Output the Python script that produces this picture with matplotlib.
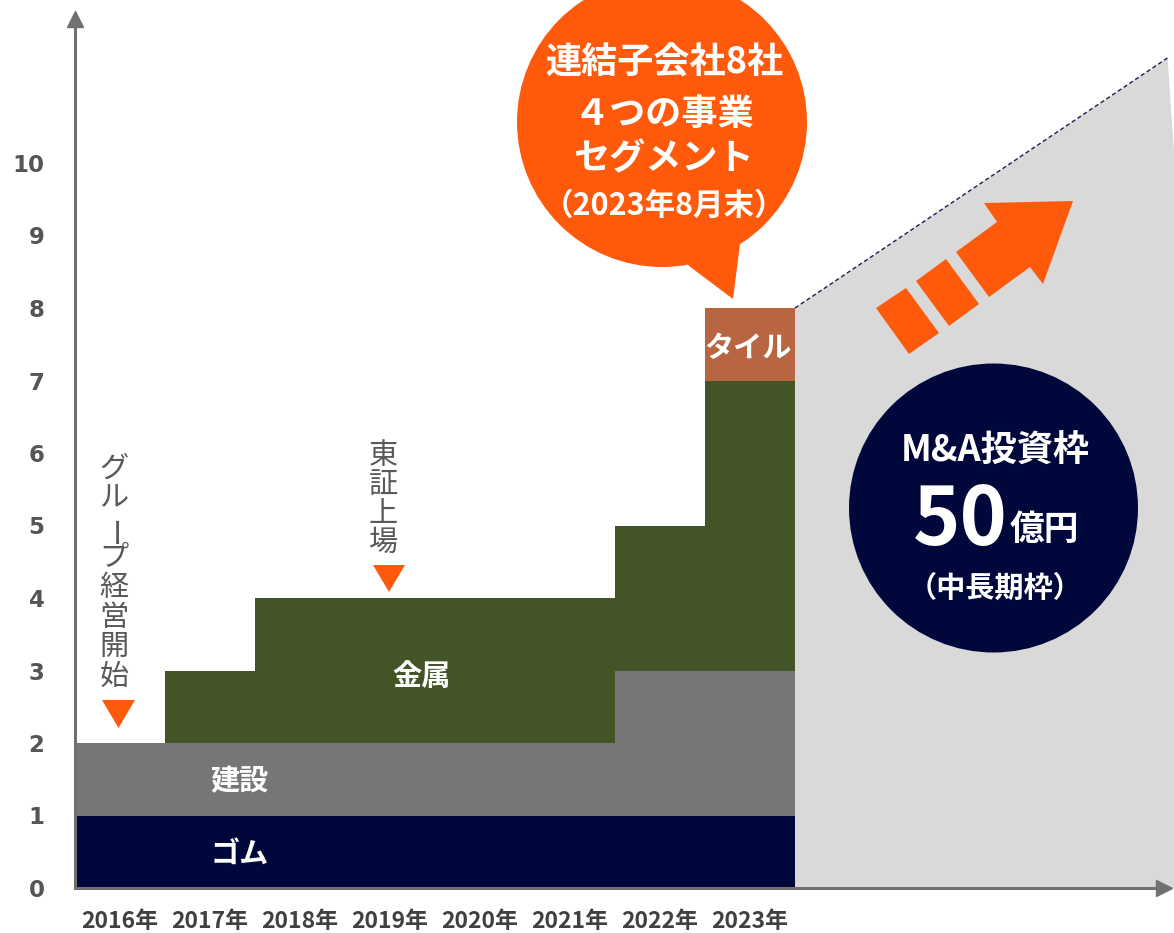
import matplotlib
matplotlib.use("Agg")
import matplotlib.pyplot as plt
from matplotlib.patches import Circle, Polygon
import numpy as np

plt.rcParams['font.family'] = ['Noto Sans CJK JP', 'DejaVu Sans']

# --- data ---
years = ["2016年", "2017年", "2018年", "2019年", "2020年", "2021年", "2022年", "2023年"]
gomu = [1, 1, 1, 1, 1, 1, 1, 1]          # ゴム
kensetsu = [1, 1, 1, 1, 1, 1, 2, 2]      # 建設
kinzoku = [0, 1, 2, 2, 2, 2, 2, 4]       # 金属
tile = [0, 0, 0, 0, 0, 0, 0, 1]          # タイル
proj_x = [8, 12.14]                      # M&A projection (dashed line)
proj_y = [8, 11.45]
yticks = [0, 1, 2, 3, 4, 5, 6, 7, 8, 9, 10]

NAVY = '#00073a'
GRAY = '#767676'
GREEN = '#435426'
TILE = '#b86542'
ORANGE = '#ff5a0c'
LGRAY = '#d9d9d9'
AXC = '#707070'
TXT = '#595959'

W, H = 1174, 933
X0, Y0 = 75, 888       # origin in pixels
COL, UNIT = 90, 72.5   # pixels per year / per unit

fig = plt.figure(figsize=(W / 100, H / 100), dpi=100)
ax = fig.add_axes([X0 / W, (H - Y0) / H, 1 - X0 / W, Y0 / H])
ax.set_xlim(0, (W - X0) / COL)
ax.set_ylim(0, Y0 / UNIT)

x = np.arange(len(years))
edges = np.arange(len(years) + 1)
b1 = np.array(gomu)
b2 = b1 + np.array(kensetsu)
b3 = b2 + np.array(kinzoku)
b4 = b3 + np.array(tile)
ax.stairs(b1, edges, baseline=0, fill=True, color=NAVY, lw=0)
ax.stairs(b2, edges, baseline=b1, fill=True, color=GRAY, lw=0)
ax.stairs(b3, edges, baseline=b2, fill=True, color=GREEN, lw=0)
ax.stairs(b4, edges, baseline=b3, fill=True, color=TILE, lw=0)

# projection area
ax.fill([proj_x[0], proj_x[0], proj_x[1], 12.22, 12.22],
        [0, proj_y[0], proj_y[1], 10, 0], color=LGRAY, lw=0, zorder=0.5)
ax.plot(proj_x, proj_y, color='#1c1c4a', lw=1, ls=(0, (3, 2)))

# labels inside areas
lab = dict(color='white', fontweight='bold', fontsize=21, ha='center', va='center')
ax.text(1.83, 0.48, "ゴム", **lab)
ax.text(1.83, 1.48, "建設", **lab)
ax.text(3.85, 2.93, "金属", **lab)
ax.text(7.48, 7.45, "タイル", **lab)

# axes
for s in ['top', 'right']:
    ax.spines[s].set_visible(False)
ax.spines['left'].set_color(AXC)
ax.spines['left'].set_linewidth(2.2)
ax.spines['left'].set_bounds(0, 11.9)
ax.spines['bottom'].set_color(AXC)
ax.spines['bottom'].set_linewidth(2.2)
ax.spines['bottom'].set_bounds(0, 12.02)
ax.plot(0, 11.98, marker='^', ms=11, color=AXC, clip_on=False)
ax.plot(12.1, 0, marker='>', ms=11, color=AXC, clip_on=False)

ax.set_yticks(yticks)
ax.set_yticklabels([str(v) for v in yticks], fontfamily='DejaVu Sans',
                   fontweight='bold', fontsize=16.5, color='#555555')
ax.tick_params(axis='y', length=0, pad=22)
ax.set_xticks(x + 0.5)
ax.set_xticklabels(years, fontweight='bold', fontsize=16.5, color='#404040')
ax.tick_params(axis='x', length=0, pad=16)
ax.patch.set_alpha(0)

# overlay canvas for callouts
ov = fig.add_axes([0, 0, 1, 1])
ov.set_xlim(0, W)
ov.set_ylim(H, 0)
ov.axis('off')
ov.patch.set_alpha(0)

# speech bubble
ov.add_patch(Circle((662, 122), 145, color=ORANGE, lw=0))
ov.add_patch(Polygon([(680, 250), (689, 266), (733, 299), (740, 244), (720, 230)],
                     color=ORANGE, lw=0))
bt = dict(color='white', fontweight='bold', ha='center', va='center')
ov.text(664, 63, "連結子会社8社", fontsize=26, **bt)
ov.text(664, 114, "４つの事業", fontsize=26, **bt)
ov.text(664, 159, "セグメント", fontsize=26, **bt)
ov.text(664, 206, "（2023年8月末）", fontsize=22, **bt)

# orange arrow
ov.add_patch(Polygon([(876, 308), (906, 288), (939, 333), (909, 354)], color=ORANGE, lw=0))
ov.add_patch(Polygon([(916, 281), (946, 259), (979, 304), (949, 326)], color=ORANGE, lw=0))
ov.add_patch(Polygon([(956, 252), (997, 222), (984, 203), (1073, 201),
                      (1043, 284), (1030, 267), (989, 297)], color=ORANGE, lw=0))

# M&A circle
ov.add_patch(Circle((993.5, 508), 144.5, color=NAVY, lw=0))
ov.text(995, 451, "M&A投資枠", fontsize=26, **bt)
ov.text(1008, 545, "50", fontsize=58, color='white', fontweight='bold',
        ha='right', va='baseline')
ov.text(1010, 540, "億円", fontsize=25, color='white', fontweight='bold',
        ha='left', va='baseline')
ov.text(995, 588, "（中長期枠）", fontsize=21, **bt)

# vertical notes with triangles
def vtext(s, xc, y_first, step):
    for i, ch in enumerate(s):
        if ch == 'ー':
            ov.text(xc + 6, y_first + i * step, ch, fontsize=21, color=TXT,
                    ha='center', va='center', rotation=90)
        else:
            ov.text(xc, y_first + i * step, ch, fontsize=21, color=TXT,
                    ha='center', va='center')

vtext("グループ経営開始", 114, 469, 29.7)
vtext("東証上場", 383, 456, 29)
ov.add_patch(Polygon([(102, 700), (135, 700), (118.5, 728)], color=ORANGE, lw=0))
ov.add_patch(Polygon([(373, 565), (405, 565), (389, 592)], color=ORANGE, lw=0))

fig.savefig("out.png", dpi=100)
